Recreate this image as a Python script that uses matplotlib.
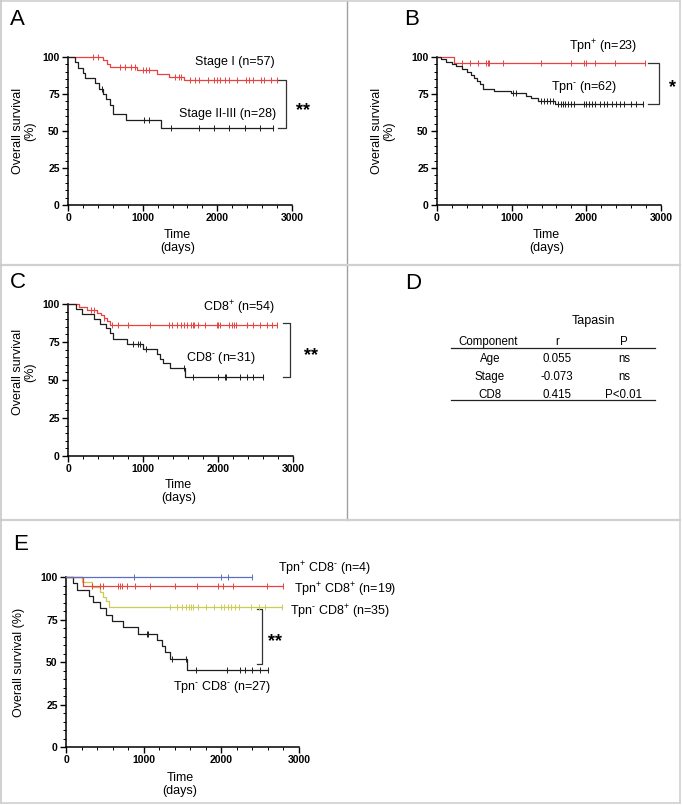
import numpy as np
import matplotlib
matplotlib.use("Agg")
import matplotlib.pyplot as plt
from matplotlib.lines import Line2D
from matplotlib.ticker import MultipleLocator

plt.rcParams['font.family'] = ['Liberation Sans', 'DejaVu Sans']
plt.rcParams['mathtext.fontset'] = 'custom'
plt.rcParams['mathtext.rm'] = 'Liberation Sans'
plt.rcParams['mathtext.default'] = 'regular'

RED = '#e8433f'
BLACK = '#1e1e1e'
BLUE = '#5b6fc4'
YELLOW = '#cccb55'

POS = '$^{+}$'
NEG = '$^{\u2010}$'

# ---- panel A: stage ----
stage1_evt = [470, 520, 560, 920, 1190, 1350, 1560]
stage1_surv = [97.8, 95.5, 93.2, 91.0, 88.7, 86.5, 84.6]
stage1_end = 2800
stage1_cens = [330, 400, 700, 760, 840, 900, 1000, 1040, 1080, 1430, 1480, 1520,
               1640, 1700, 1760, 1880, 1960, 2000, 2040, 2100, 2160, 2260, 2380,
               2420, 2480, 2580, 2620, 2720, 2800]

stage23_evt = [90, 130, 200, 230, 360, 420, 470, 510, 560, 600, 780, 1250]
stage23_surv = [96.4, 92.9, 89.3, 85.7, 82.1, 78.6, 75.0, 71.4, 67.9, 61.7, 57.3, 52.2]
stage23_end = 2740
stage23_cens = [450, 1020, 1090, 1380, 1760, 1960, 2160, 2370, 2570, 2740]

# ---- panel B: tapasin ----
tpnpos_evt = [227]
tpnpos_surv = [95.7]
tpnpos_end = 2790
tpnpos_cens = [330, 440, 550, 660, 680, 700, 880, 1390, 1800, 1975, 2000, 2110, 2380, 2790]

tpnneg_evt = [60, 120, 200, 260, 330, 400, 450, 500, 530, 570, 610, 770, 995, 1195,
              1260, 1350, 1575]
tpnneg_surv = [98.4, 96.8, 95.2, 93.6, 91.9, 90.0, 87.6, 85.6, 84.0, 82.0, 78.6, 77.3,
               75.6, 73.8, 72.0, 70.1, 68.0]
tpnneg_end = 2755
tpnneg_cens = [1020, 1060, 1390, 1430, 1470, 1510, 1550, 1620, 1660, 1690, 1720, 1760,
               1800, 1840, 1970, 2000, 2040, 2080, 2110, 2180, 2230, 2280, 2340, 2400,
               2450, 2510, 2600, 2660, 2755]

# ---- panel C: CD8 ----
cd8pos_evt = [150, 250, 380, 440, 480, 520, 560]
cd8pos_surv = [98.1, 96.2, 94.4, 92.5, 90.6, 88.6, 86.4]
cd8pos_end = 2790
cd8pos_cens = [300, 340, 480, 580, 670, 800, 1090, 1340, 1390, 1450, 1500, 1540, 1580,
               1640, 1660, 1680, 1730, 1820, 1980, 2000, 2020, 2150, 2190, 2210, 2240,
               2380, 2470, 2560, 2650, 2720, 2790]

cd8neg_evt = [110, 180, 350, 420, 510, 555, 600, 780, 1000, 1180, 1220, 1270, 1355, 1555]
cd8neg_surv = [96.8, 93.5, 90.3, 87.1, 83.9, 80.6, 77.0, 73.7, 70.3, 67.0, 64.0, 61.0,
               57.6, 52.3]
cd8neg_end = 2600
cd8neg_cens = [870, 935, 960, 1040, 1540, 1670, 2000, 2090, 2110, 2290, 2380, 2470, 2600]

# ---- panel E: combined ----
pp_n_evt = []
pp_n_surv = []
pp_n_end = 2400
pp_n_cens = [870, 2000, 2090, 2400]

pp_p_evt = [215]
pp_p_surv = [94.7]
pp_p_end = 2790
pp_p_cens = [340, 440, 480, 670, 700, 720, 790, 890, 1080, 1400, 1690, 1960, 2020,
             2150, 2590, 2790]

nn_p_evt = [210, 330, 440, 480, 520, 560]
nn_p_surv = [97.1, 94.2, 91.4, 88.5, 85.6, 82.3]
nn_p_end = 2780
nn_p_cens = [1340, 1430, 1490, 1550, 1580, 1610, 1640, 1700, 1800, 1900, 1990, 2030,
             2090, 2120, 2170, 2230, 2380, 2480, 2560, 2780]

nn_n_evt = [94, 137, 290, 350, 440, 520, 590, 740, 930, 1170, 1230, 1275, 1340, 1555]
nn_n_surv = [96.3, 92.6, 88.9, 85.2, 81.5, 77.8, 74.1, 70.4, 66.7, 63.0, 59.3, 55.6,
             51.9, 45.3]
nn_n_end = 2605
nn_n_cens = [1040, 1060, 1360, 1550, 1680, 2070, 2240, 2310, 2400, 2500, 2605]

# table D
tab_comp = ['Age', 'Stage', 'CD8']
tab_r = ['0.055', '-0.073', '0.415']
tab_p = ['ns', 'ns', 'P<0.01']

W, H = 682, 805
fig = plt.figure(figsize=(W / 100, H / 100), dpi=100)


def px(x, y):
    return x / W, 1 - y / H


def make_ax(l, t, r, b):
    x0, y1 = px(l, t)
    x1, y0 = px(r, b)
    ax = fig.add_axes([x0, y0, x1 - x0, y1 - y0])
    ax.set_xlim(0, 3000)
    ax.set_ylim(0, 100)
    ax.spines[['top', 'right']].set_visible(False)
    for s in ['left', 'bottom']:
        ax.spines[s].set_linewidth(1.1)
    ax.xaxis.set_major_locator(MultipleLocator(1000))
    ax.xaxis.set_minor_locator(MultipleLocator(200))
    ax.yaxis.set_major_locator(MultipleLocator(25))
    ax.yaxis.set_minor_locator(MultipleLocator(5))
    ax.tick_params(which='major', length=4, width=1.0, labelsize=7.5, pad=2)
    ax.tick_params(which='minor', length=2, width=0.7)
    for lab in ax.get_xticklabels() + ax.get_yticklabels():
        lab.set_fontweight('bold')
    ax.set_xlabel('Time\n(days)', fontsize=9, linespacing=1.1)
    return ax


def km(ax, evt, surv, end, cens, color):
    t = np.r_[0, evt, end]
    last = surv[-1] if len(surv) else 100
    s = np.r_[100, surv, last]
    ax.step(t, s, where='post', color=color, lw=0.9, clip_on=False, zorder=3)
    cs = s[np.searchsorted(t, cens, side='right') - 1]
    ax.plot(cens, cs, ls='none', marker='|', ms=4, mew=0.7, color=color,
            clip_on=False, zorder=3)


def bracket(ax, x, xl, y0, y1, star, xs, ys):
    ax.plot([xl, x, x, xl], [y0, y0, y1, y1], color='#333333', lw=0.9, clip_on=False)
    ax.text(xs, ys, star, fontsize=13, fontweight='bold', ha='center', va='center',
            clip_on=False)


# A
axA = make_ax(68, 57, 292, 205)
km(axA, stage1_evt, stage1_surv, stage1_end, stage1_cens, RED)
km(axA, stage23_evt, stage23_surv, stage23_end, stage23_cens, BLACK)
axA.text(2232, 96.6, 'Stage I (n=57)', fontsize=9, ha='center', va='center')
axA.text(2143, 61.3, 'Stage II-III (n=28)', fontsize=9, ha='center', va='center')
bracket(axA, 2915, 2810, 84.7, 52.2, '**', 3147, 64)
axA.set_ylabel('Overall survival\n(%)', fontsize=9, linespacing=1.1)
axA.yaxis.set_label_coords(-0.14, 0.5)
axA.xaxis.set_label_coords(0.49, -0.165)

# B
axB = make_ax(437, 57, 661, 205)
km(axB, tpnpos_evt, tpnpos_surv, tpnpos_end, tpnpos_cens, RED)
km(axB, tpnneg_evt, tpnneg_surv, tpnneg_end, tpnneg_cens, BLACK)
axB.text(2220, 107, 'Tpn' + POS + ' (n=23)', fontsize=9, ha='center', va='center')
axB.text(1975, 79.5, 'Tpn' + NEG + ' (n=62)', fontsize=9, ha='center', va='center')
bracket(axB, 2978, 2822, 96, 68, '*', 3156, 79)
axB.set_ylabel('Overall survival\n(%)', fontsize=9, linespacing=1.1)
axB.yaxis.set_label_coords(-0.185, 0.5)
axB.xaxis.set_label_coords(0.49, -0.165)

# C
axC = make_ax(68, 304, 293, 456)
km(axC, cd8pos_evt, cd8pos_surv, cd8pos_end, cd8pos_cens, RED)
km(axC, cd8neg_evt, cd8neg_surv, cd8neg_end, cd8neg_cens, BLACK)
axC.text(2280, 97.6, 'CD8' + POS + ' (n=54)', fontsize=9, ha='center', va='center')
axC.text(2031, 64.8, 'CD8' + NEG + ' (n=31)', fontsize=9, ha='center', va='center')
bracket(axC, 2955, 2866, 87.5, 52, '**', 3244, 66)
axC.set_ylabel('Overall survival\n(%)', fontsize=9, linespacing=1.1)
axC.yaxis.set_label_coords(-0.14, 0.55)
axC.xaxis.set_label_coords(0.49, -0.15)

# E
axE = make_ax(66, 577, 299, 747)
km(axE, nn_n_evt, nn_n_surv, nn_n_end, nn_n_cens, BLACK)
km(axE, nn_p_evt, nn_p_surv, nn_p_end, nn_p_cens, YELLOW)
km(axE, pp_p_evt, pp_p_surv, pp_p_end, pp_p_cens, RED)
km(axE, pp_n_evt, pp_n_surv, pp_n_end, pp_n_cens, BLUE)
axE.text(2734, 104.7, 'Tpn' + POS + ' CD8' + NEG + ' (n=4)', fontsize=9,
         ha='left', va='center', clip_on=False)
axE.text(2936, 92.5, 'Tpn' + POS + ' CD8' + POS + ' (n=19)', fontsize=9,
         ha='left', va='center', clip_on=False)
axE.text(2884, 79.7, 'Tpn' + NEG + ' CD8' + POS + ' (n=35)', fontsize=9,
         ha='left', va='center', clip_on=False)
axE.text(2004, 35.4, 'Tpn' + NEG + ' CD8' + NEG + ' (n=27)', fontsize=9,
         ha='center', va='center')
bracket(axE, 2528, 2455, 81, 49, '**', 2691, 62)
axE.set_ylabel('Overall survival (%)', fontsize=9)
axE.yaxis.set_label_coords(-0.176, 0.5)
axE.xaxis.set_label_coords(0.49, -0.145)

# D table
fig.text(*px(593, 321), 'Tapasin', fontsize=9, ha='center', va='center')
cols_x = [488, 557, 624]
for cx, h in zip(cols_x, ['Component', 'r', 'P']):
    fig.text(*px(cx, 342), h, fontsize=8.3, ha='center', va='center')
for i, (c, r, p) in enumerate(zip(tab_comp, tab_r, tab_p)):
    yy = 359 + 18 * i
    fig.text(*px(cols_x[0] + 2, yy), c, fontsize=8.3, ha='center', va='center')
    fig.text(*px(cols_x[1], yy), r, fontsize=8.3, ha='center', va='center')
    fig.text(*px(cols_x[2], yy), p, fontsize=8.3, ha='center', va='center')
for yl in [348, 400]:
    fig.add_artist(Line2D([451 / W, 655 / W], [1 - yl / H] * 2,
                          transform=fig.transFigure, color='#222222', lw=0.9))

# panel letters
for letter, x, y in [('A', 10, 25), ('B', 404, 25), ('C', 10, 288),
                     ('D', 405, 289), ('E', 13, 550)]:
    fig.text(*px(x, y), letter, fontsize=16, ha='left', va='baseline')

# panel borders
def fline(x0, y0, x1, y1, color, lw):
    fig.add_artist(Line2D([x0 / W, x1 / W], [1 - y0 / H, 1 - y1 / H],
                          transform=fig.transFigure, color=color, lw=lw))

fline(347, 1, 347, 520, '#a0a0a0', 1.0)
fline(1, 265, 680, 265, '#d0d0d0', 1.6)
fline(1, 520, 680, 520, '#d0d0d0', 1.6)
fline(1, 1, 680, 1, '#d0d0d0', 1.2)
fline(1, 1, 1, 803, '#c8c8c8', 1.2)
fline(680, 1, 680, 803, '#d0d0d0', 1.2)
fline(1, 803, 680, 803, '#d0d0d0', 1.2)

fig.savefig('out.png', dpi=100)
